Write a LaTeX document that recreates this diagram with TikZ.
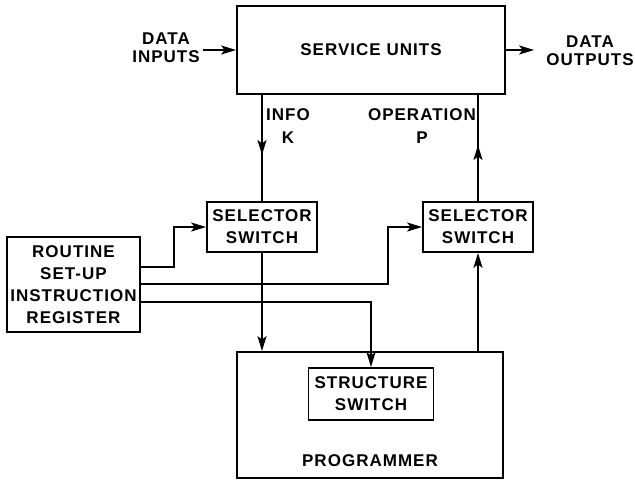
\documentclass[tikz,border=0pt]{standalone}
\usepackage{fontspec}
\setmainfont{Liberation Sans}[LetterSpace=6]
\usetikzlibrary{arrows.meta}

\begin{document}
\begin{tikzpicture}[x=1pt, y=-1pt,
        blocco/.style={draw, line width=1.8pt, inner sep=0pt, align=center},
        testo/.style={font=\fontsize{17}{22}\selectfont\bfseries, align=center},
        dati/.style={font=\fontsize{17}{18}\selectfont\bfseries, align=center, inner sep=3pt},
        linea/.style={line width=1.8pt},
        freccia/.style={linea, -{Stealth[length=15pt,width=9pt,inset=3.5pt]}}]
        % Cornice
        \useasboundingbox (0,0) rectangle (635,482);

        % Blocco in alto
        \node[blocco, testo, minimum width=268pt, minimum height=88pt] (su) at (371,50) {SERVICE UNITS};

        % Ingressi e uscite
        \node[dati] (din) at (166,48) {DATA\\INPUTS};
        \node[dati] (dout) at (590,51) {DATA\\OUTPUTS};
        \draw[freccia] (su.west -| din.east) -- (su.west);
        \draw[freccia, shorten >=9pt] (su.east) -- (su.east -| dout.west);

        % Selettori
        \node[blocco, testo, minimum width=110pt, minimum height=50pt] (sel1) at (262,227) {SELECTOR\\SWITCH};
        \node[blocco, testo, minimum width=110pt, minimum height=50pt] (sel2) at (478,227) {SELECTOR\\SWITCH};

        % Registro
        \node[blocco, testo, minimum width=133pt, minimum height=95pt] (rtn) at (73.5,284.5) {ROUTINE\\SET-UP\\INSTRUCTION\\REGISTER};

        % Programmatore
        \node[blocco, minimum width=266pt, minimum height=126pt] (prog) at (370,415) {};
        \node[blocco, testo, minimum width=125pt, minimum height=52pt] (str) at (371,394) {STRUCTURE\\SWITCH};
        \node[testo] (progtxt) at (370,461) {PROGRAMMER};

        % Etichette
        \node[testo, font=\fontsize{17}{23}\selectfont\bfseries] (info) at (288,126.5) {INFO\\K};
        \node[testo, font=\fontsize{17}{23}\selectfont\bfseries] (oper) at (422,126.5) {OPERATION\\P};

        % Linee K e P (freccia a metà)
        \coordinate (kmid) at (262,155);
        \coordinate (pmid) at (478,145);
        \draw[linea] (su.south -| sel1.north) -- (sel1.north);
        \draw[freccia] (su.south -| sel1.north) -- (kmid);
        \draw[linea] (sel2.north) -- (su.south -| sel2.north);
        \draw[freccia] (sel2.north) -- (pmid);

        % Collegamenti col programmatore
        \draw[freccia] (sel1.south) -- (sel1.south |- prog.north);
        \draw[freccia] (prog.north -| sel2.south) -- (sel2.south);

        % Uscite del registro
        \draw[freccia] ([yshift=17.5pt]rtn.east) -- ++(33,0) |- (sel1.west);
        \draw[freccia] ([yshift=0.5pt]rtn.east) -- ++(247,0) |- (sel2.west);
        \draw[freccia] ([yshift=-17.5pt]rtn.east) -| (str.north);

    \end{tikzpicture}
\end{document}
